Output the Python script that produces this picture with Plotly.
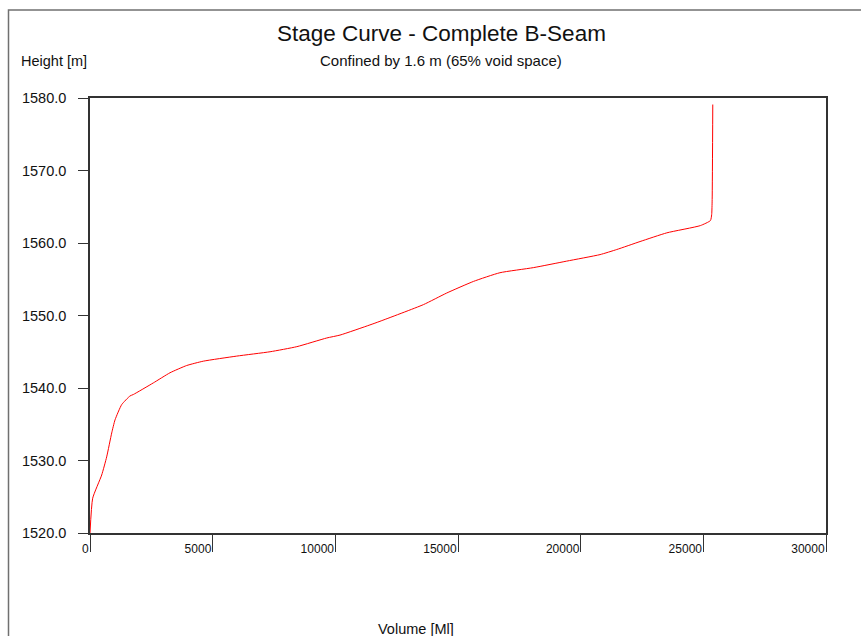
import plotly.graph_objects as go

# Stage curve: stored volume (Ml) against water height (m)
volume_ml = [0, 110, 477, 680, 885, 1020, 1290, 1630, 1765, 2580, 3260, 3940,
             4620, 5980, 7340, 8430, 9650, 10190, 11410, 11820, 13590, 14540,
             15630, 16710, 18070, 19430, 20790, 21470, 22420, 23510, 24880,
             25290, 25340, 25360, 25385]
height_m = [1520.0, 1524.8, 1528.0, 1530.5, 1533.8, 1535.6, 1537.7, 1538.9,
            1539.1, 1540.7, 1542.1, 1543.1, 1543.7, 1544.4, 1545.0, 1545.7,
            1546.9, 1547.3, 1548.7, 1549.2, 1551.5, 1553.1, 1554.7, 1555.9,
            1556.6, 1557.5, 1558.4, 1559.1, 1560.2, 1561.4, 1562.4, 1563.1,
            1563.9, 1566.0, 1579.1]

x_ticks = [0, 5000, 10000, 15000, 20000, 25000, 30000]
y_ticks = [1520, 1530, 1540, 1550, 1560, 1570, 1580]

title_text = "Stage Curve - Complete B-Seam"
subtitle_text = "Confined by 1.6 m (65% void space)"
y_title = "Height [m]"
x_title = "Volume [Ml]"

W, H = 861, 636
L, R, T, B = 90, 826, 98, 533
FONT = "Liberation Sans, Arial, sans-serif"


def px(x):
    return (x - L) / (R - L)


def py(y):
    return (B - y) / (B - T)


fig = go.Figure()
fig.add_trace(go.Scatter(
    x=volume_ml, y=height_m, mode="lines",
    line=dict(color="#ff0000", width=1, shape="spline", smoothing=0.5),
    hoverinfo="x+y", showlegend=False,
))

axis_common = dict(
    showline=True, linecolor="#333333", linewidth=1.5, mirror=True,
    showgrid=False, zeroline=False, ticks="outside", tickcolor="#333333",
    tickwidth=1.2,
)

fig.update_xaxes(
    range=[0, 30000], tickvals=x_ticks, ticktext=[str(v) for v in x_ticks],
    ticklen=17, ticklabelposition="outside left", ticklabelstandoff=4,
    tickfont=dict(family=FONT, size=12, color="#111111"), **axis_common,
)
fig.update_yaxes(
    range=[1520, 1580], tickvals=y_ticks, ticktext=[f"{v:.1f}" for v in y_ticks],
    ticklen=10, ticklabelstandoff=9,
    tickfont=dict(family=FONT, size=14.5, color="#111111"), **axis_common,
)

annotations = [
    dict(text=title_text, x=px(441), y=py(33.5), size=22.5, xanchor="center"),
    dict(text=subtitle_text, x=px(441), y=py(61), size=15, xanchor="center"),
    dict(text=y_title, x=px(19), y=py(61), size=14.5, xanchor="left"),
    dict(text=x_title, x=px(416), y=py(629), size=14.5, xanchor="center"),
]
for a in annotations:
    fig.add_annotation(
        text=a["text"], x=a["x"], y=a["y"], xref="paper", yref="paper",
        xanchor=a["xanchor"], yanchor="middle", showarrow=False,
        font=dict(family=FONT, size=a["size"], color="#111111"),
    )

# outer frame around the whole chart
fig.add_shape(
    type="rect", xref="paper", yref="paper",
    x0=px(8.5), y0=py(10), x1=px(880), y1=py(660),
    line=dict(color="#707070", width=1.5), fillcolor="rgba(0,0,0,0)",
)

fig.update_layout(
    width=W, height=H,
    margin=dict(l=L, r=W - R, t=T, b=H - B, pad=0),
    paper_bgcolor="white", plot_bgcolor="white",
    font=dict(family=FONT),
)

fig.write_html("out.html")
